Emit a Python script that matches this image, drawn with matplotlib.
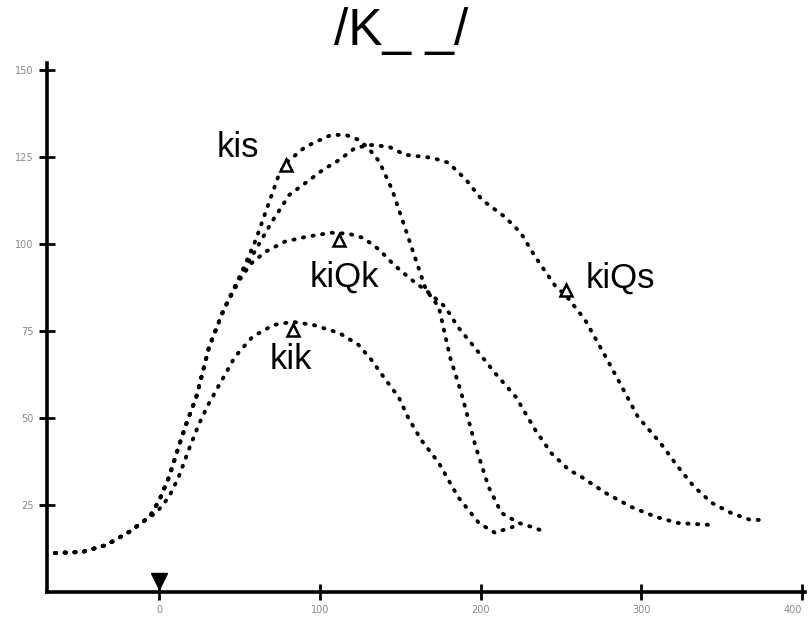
import matplotlib
matplotlib.use("Agg")
import matplotlib.pyplot as plt

# shared onset of all four contours
start_x = [-65, -48, -33, -19, -6, 0, 6, 12, 17, 23]
start_y = [11.2, 11.5, 13.5, 17.2, 21.6, 26.4, 33.0, 41.7, 48.6, 56.0]

kis_x = [31, 40, 50, 60, 74, 79, 91, 107, 116, 124, 130, 137, 145, 157, 166, 174,
         181, 188, 197, 205, 213, 224, 234, 241]
kis_y = [70.4, 81.0, 90.5, 101.1, 119.3, 123.3, 127.9, 131.3, 131.3, 129.9, 127.6, 123.6,
         115.5, 99.1, 86.8, 81.9, 67.5, 57.2, 41.7, 30.2, 22.7, 19.8, 18.4, 17.0]

kiQs_x = [31, 40, 50, 60, 70, 81, 91, 102, 112, 122, 132, 143, 153, 170, 180, 191, 201,
          215, 225, 234, 247, 253, 265, 278, 290, 298, 312, 323, 333, 344, 356, 368, 378]
kiQs_y = [70.4, 81.0, 90.5, 98.3, 106.3, 114.1, 117.5, 121.3, 124.1, 127.6, 128.4, 127.9,
          125.6, 124.7, 123.3, 118.4, 112.6, 107.8, 103.2, 96.3, 87.6, 85.3, 78.2, 67.5,
          57.2, 50.3, 42.8, 35.9, 30.2, 25.6, 22.7, 20.7, 20.7]

kiQk_x = [31, 40, 50, 57, 66, 78, 91, 107, 118, 127, 137, 146, 157, 168, 178, 186, 199,
          209, 222, 234, 244, 255, 263, 278, 294, 309, 323, 342]
kiQk_y = [70.4, 81.0, 89.7, 94.3, 97.7, 100.6, 102.0, 103.2, 102.9, 101.7, 98.3, 94.0,
          89.7, 85.9, 81.9, 76.1, 68.7, 62.9, 56.0, 46.6, 39.9, 35.1, 33.0, 28.4, 24.4,
          21.6, 19.8, 19.3]

kik_x = [-65, -48, -33, -19, -6, -2, 6, 12, 19, 25, 31, 39, 47, 58, 71, 83, 96, 112,
         124, 132, 141, 149, 155, 163, 174, 186, 199, 209, 220]
kik_y = [11.2, 11.5, 13.5, 17.2, 21.6, 22.7, 27.3, 33.0, 41.7, 48.6, 54.3, 60.9, 67.5,
         73.3, 76.7, 77.6, 76.7, 74.4, 71.0, 66.7, 60.9, 56.0, 50.0, 43.7, 37.1, 27.3,
         19.8, 17.0, 18.7]

# open triangles on the contours and the word labels
tri_x = [79, 112, 83, 253]
tri_y = [122.7, 101.1, 75.3, 86.8]
labels = ["kis", "kiQk", "kik", "kiQs"]
label_x = [49, 115, 82, 287]
label_y = [127.7, 90.5, 66.7, 90.2]

onset_x = [0]
xticks = [0, 100, 200, 300, 400]
yticks = [25, 50, 75, 100, 125, 150]

fig = plt.figure(figsize=(8.09, 6.24), dpi=100)
ax = fig.add_axes([0.058, 0.0513, 0.937, 0.848])

dots = dict(color="black", lw=2.8, linestyle=(0, (0.3, 2.2)), dash_capstyle="round")
ax.plot(kik_x, kik_y, **dots)
for xs, ys in [(kis_x, kis_y), (kiQs_x, kiQs_y), (kiQk_x, kiQk_y)]:
    ax.plot(start_x + xs, start_y + ys, **dots)

ax.plot(tri_x, tri_y, linestyle="none", marker="^", ms=8, mfc="white", mec="black", mew=1.8)
for lab, x, y in zip(labels, label_x, label_y):
    ax.text(x, y, lab, fontsize=25, family="Liberation Sans", ha="center", va="center")

ax.plot(onset_x, [3.2] * len(onset_x), linestyle="none", marker="v", ms=11, color="black",
        clip_on=False)

ax.set_xlim(-70, 402)
ax.set_ylim(0, 152)
ax.set_xticks(xticks)
ax.set_yticks(yticks)
ax.tick_params(direction="inout", length=12, width=2, labelsize=7, labelcolor="#888888")
ax.get_xticklabels()[-1].set_horizontalalignment("right")
for side in ["top", "right"]:
    ax.spines[side].set_visible(False)
for side in ["left", "bottom"]:
    ax.spines[side].set_linewidth(2.6)

fig.text(0.496, 0.95, "/K_ _/", fontsize=37, family="Liberation Sans", ha="center", va="center")

fig.savefig("out.png", dpi=100)
